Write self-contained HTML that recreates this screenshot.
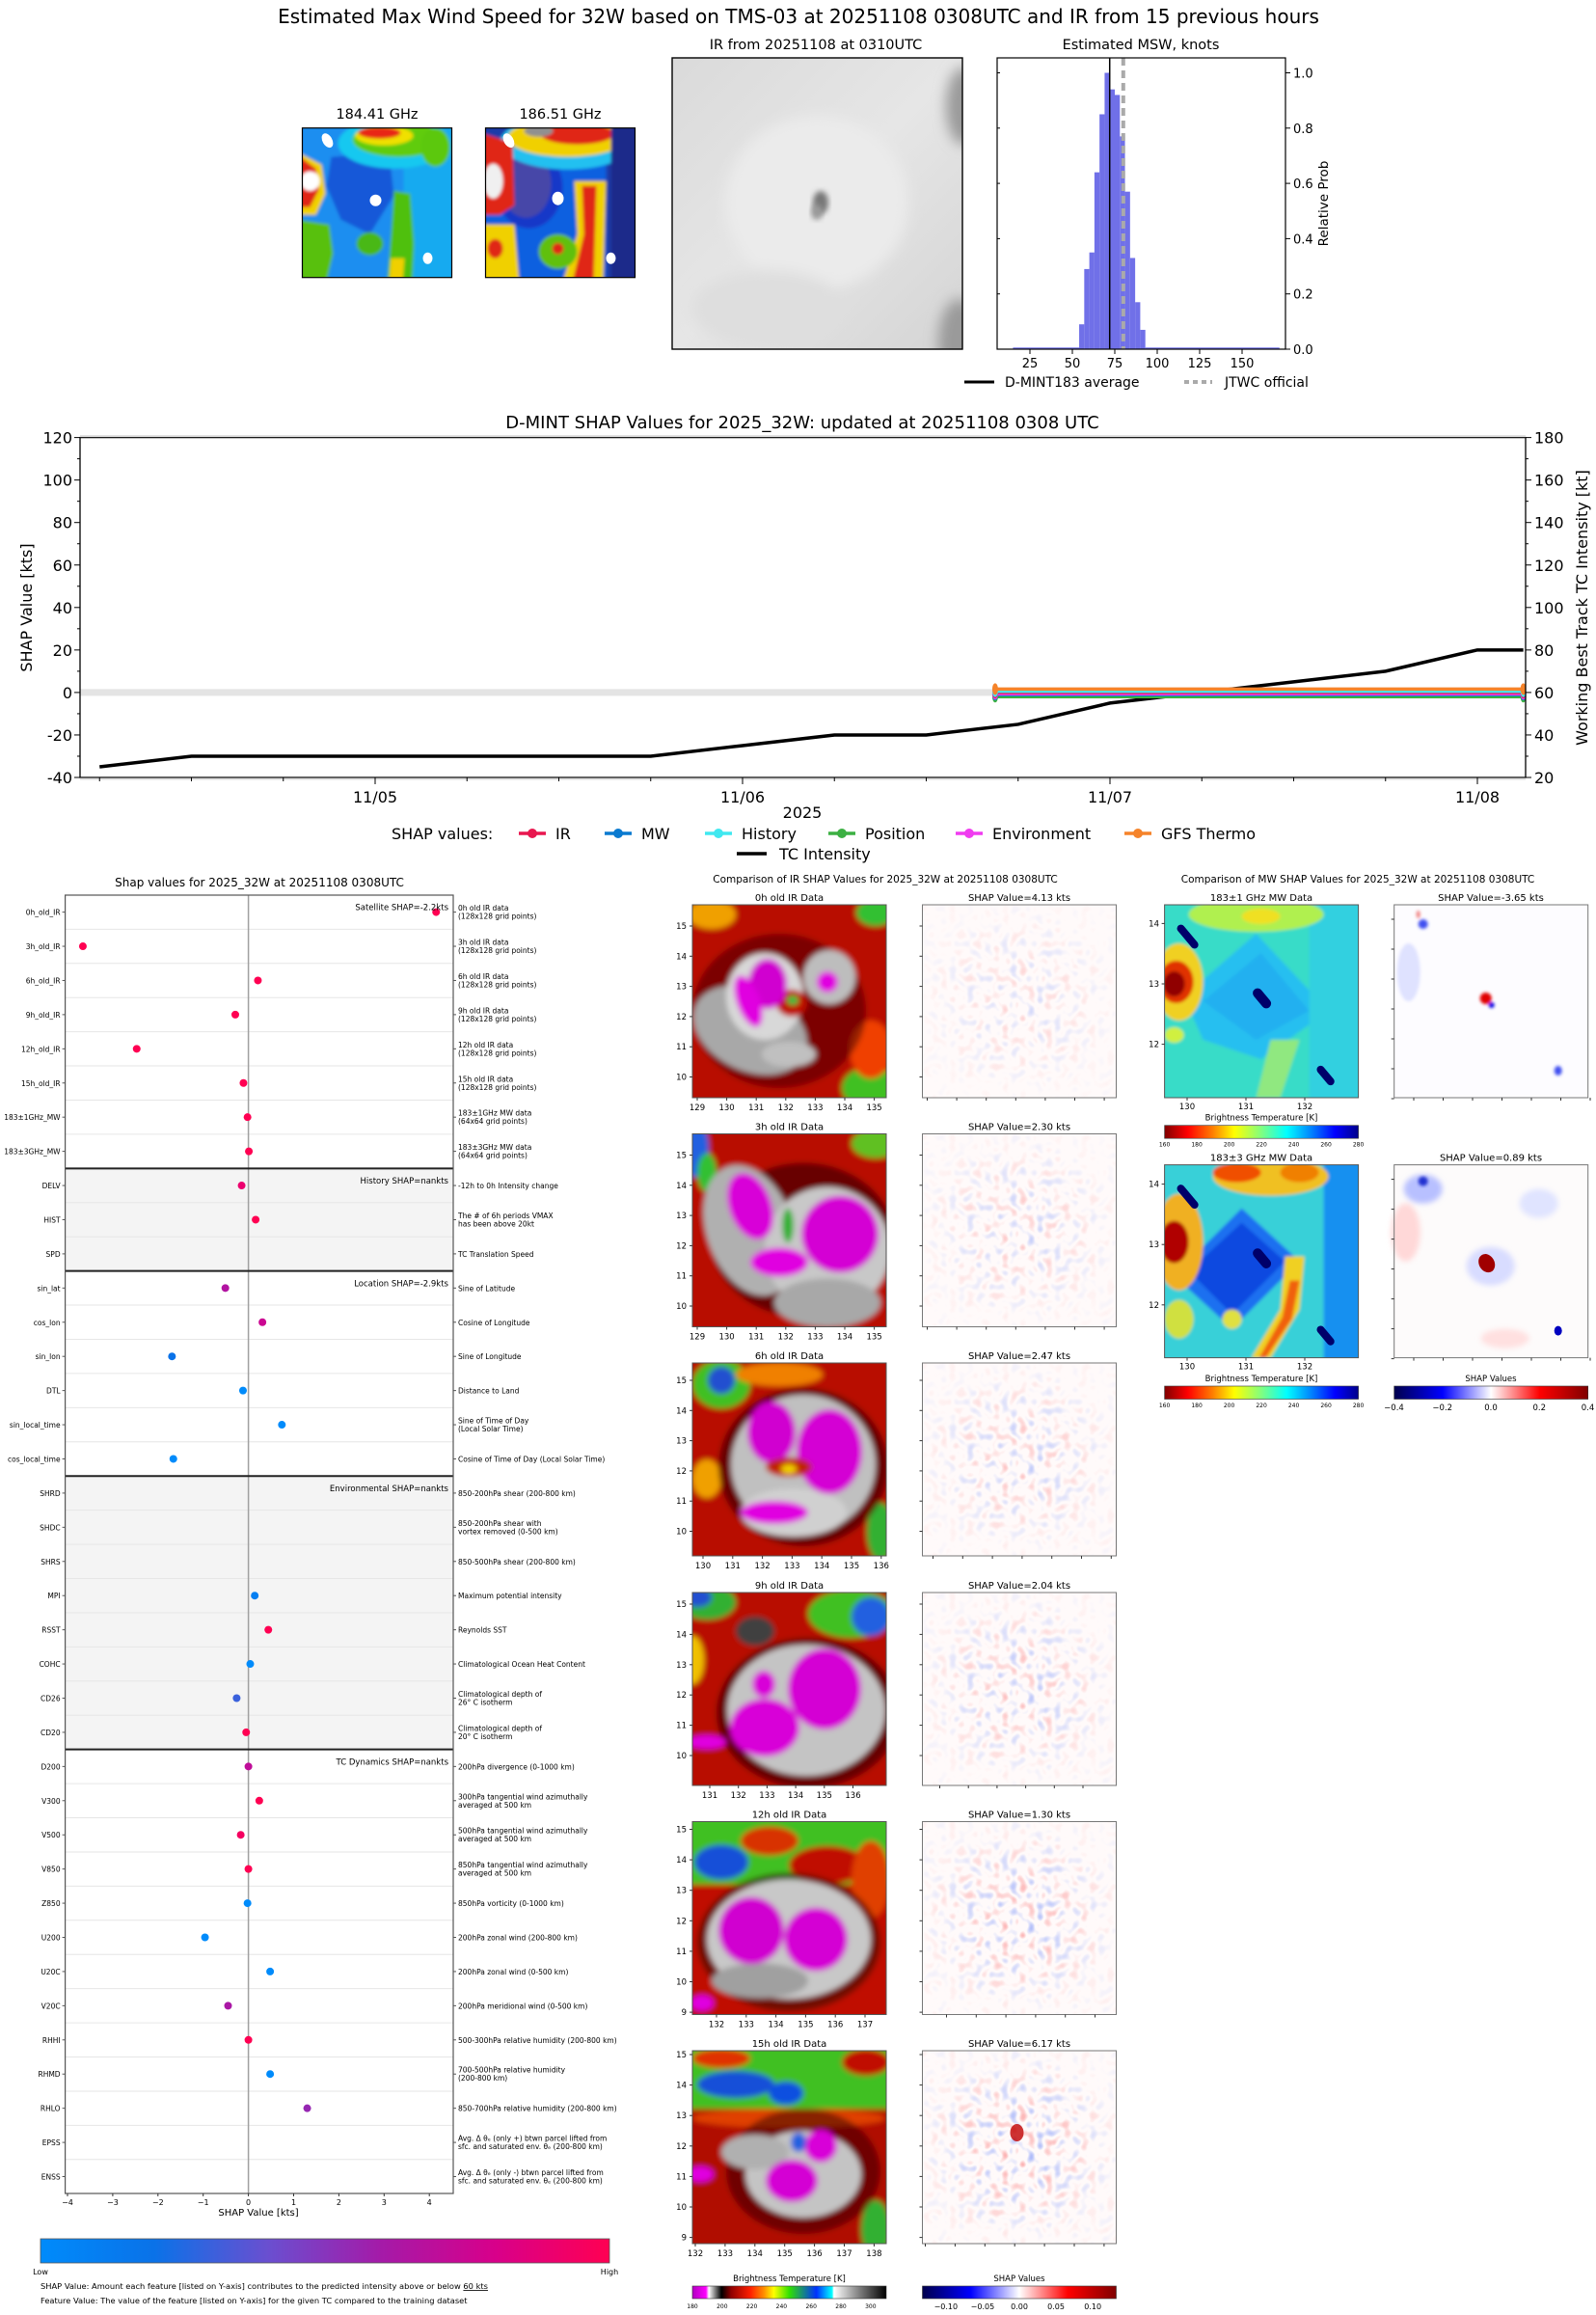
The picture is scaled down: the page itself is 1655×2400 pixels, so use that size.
<!DOCTYPE html>
<html><head><meta charset="utf-8"><title>D-MINT TMS-03 32W</title>
<style>
html,body{margin:0;padding:0;background:#fff;}
body{width:1655px;height:2396px;overflow:hidden;font-family:"DejaVu Sans","Liberation Sans",sans-serif;}
svg text{font-family:"DejaVu Sans","Liberation Sans",sans-serif;fill:#000;}
</style></head>
<body>
<svg id="page" xmlns="http://www.w3.org/2000/svg" width="1655" height="2396" viewBox="0 0 1655 2396">
<defs>
 <filter id="bl" x="-20%" y="-20%" width="140%" height="140%"><feGaussianBlur stdDeviation="3"/></filter>
 <filter id="bl2" x="-20%" y="-20%" width="140%" height="140%"><feGaussianBlur stdDeviation="1.5"/></filter>
 <filter id="bl6" x="-30%" y="-30%" width="160%" height="160%"><feGaussianBlur stdDeviation="7"/></filter>
 <filter id="noise" x="0" y="0" width="1" height="1">
  <feTurbulence type="fractalNoise" baseFrequency="0.11" numOctaves="1" seed="4" result="t"/>
  <feColorMatrix in="t" type="matrix" values="0 0 0 0 0.95  0 0 0 0 0.2  0 0 0 0 0.2  5 0 0 0 -2.75" result="r"/>
  <feColorMatrix in="t" type="matrix" values="0 0 0 0 0.2  0 0 0 0 0.3  0 0 0 0 0.95  -5 0 0 0 2.25" result="b"/>
  <feMerge><feMergeNode in="r"/><feMergeNode in="b"/></feMerge>
 </filter>
 <radialGradient id="rmask"><stop offset="0" stop-color="#fff"/><stop offset="0.55" stop-color="#888"/><stop offset="1" stop-color="#222"/></radialGradient>
 <mask id="cmask" maskContentUnits="objectBoundingBox"><rect x="0" y="0" width="1" height="1" fill="url(#rmask)"/></mask>
 <linearGradient id="jetR" x1="0" x2="1">
  <stop offset="0" stop-color="#800000"/><stop offset="0.12" stop-color="#ff0000"/><stop offset="0.25" stop-color="#ff8000"/>
  <stop offset="0.36" stop-color="#ffff00"/><stop offset="0.5" stop-color="#80ff80"/><stop offset="0.63" stop-color="#00ffff"/>
  <stop offset="0.76" stop-color="#0080ff"/><stop offset="0.88" stop-color="#0000ff"/><stop offset="1" stop-color="#00008b"/>
 </linearGradient>
 <linearGradient id="irC" x1="0" x2="1">
  <stop offset="0" stop-color="#b000c0"/><stop offset="0.07" stop-color="#ff00ff"/><stop offset="0.085" stop-color="#ffffff"/>
  <stop offset="0.15" stop-color="#000000"/><stop offset="0.2" stop-color="#900000"/><stop offset="0.3" stop-color="#ff2000"/>
  <stop offset="0.37" stop-color="#ff9000"/><stop offset="0.42" stop-color="#ffff00"/><stop offset="0.5" stop-color="#30e000"/>
  <stop offset="0.64" stop-color="#0030ff"/><stop offset="0.72" stop-color="#00ffff"/><stop offset="0.73" stop-color="#ffffff"/>
  <stop offset="0.86" stop-color="#808080"/><stop offset="1" stop-color="#000000"/>
 </linearGradient>
 <linearGradient id="seis" x1="0" x2="1">
  <stop offset="0" stop-color="#00004c"/><stop offset="0.25" stop-color="#0000ff"/><stop offset="0.5" stop-color="#ffffff"/>
  <stop offset="0.75" stop-color="#ff0000"/><stop offset="1" stop-color="#800000"/>
 </linearGradient>
 <linearGradient id="shapC" x1="0" x2="1">
  <stop offset="0" stop-color="#008bfb"/><stop offset="0.2" stop-color="#0a72e8"/><stop offset="0.4" stop-color="#6a4fd0"/>
  <stop offset="0.6" stop-color="#a51aa8"/><stop offset="0.8" stop-color="#d8008a"/><stop offset="1" stop-color="#ff0052"/>
 </linearGradient>
 <linearGradient id="irTop" x1="0" y1="0" x2="1" y2="1">
  <stop offset="0" stop-color="#dadada"/><stop offset="0.5" stop-color="#e6e6e6"/><stop offset="1" stop-color="#d4d4d4"/>
 </linearGradient>
 <clipPath id="c155"><rect x="0" y="0" width="155" height="155"/></clipPath>
 <clipPath id="c201"><rect x="0" y="0" width="201" height="200"/></clipPath>
 <clipPath id="cIR"><rect x="0" y="0" width="301" height="302"/></clipPath>
</defs>

<!-- ============ TOP SECTION ============ -->
<text x="828" y="24" font-size="20" text-anchor="middle">Estimated Max Wind Speed for 32W based on TMS-03 at 20251108 0308UTC and IR from 15 previous hours</text>

<text x="391" y="123" font-size="14.5" text-anchor="middle">184.41 GHz</text>
<text x="581" y="123" font-size="14.5" text-anchor="middle">186.51 GHz</text>

<g transform="translate(313.5,132.7)">
 <g clip-path="url(#c155)"><g filter="url(#bl2)">
  <rect x="-5" y="-5" width="165" height="165" fill="#1e8ef0"/>
  <rect x="105" y="-5" width="55" height="165" fill="#14aaf0"/>
  <polygon points="30,30 90,25 95,70 70,110 40,95 25,60" fill="#1858d8"/>
  <ellipse cx="95" cy="16" rx="58" ry="26" fill="#12c8f0"/>
  <ellipse cx="100" cy="12" rx="48" ry="18" fill="#60cc10"/>
  <ellipse cx="85" cy="8" rx="30" ry="10" fill="#f0e000"/>
  <ellipse cx="80" cy="5" rx="22" ry="6" fill="#e82818"/>
  <ellipse cx="138" cy="20" rx="15" ry="20" fill="#5cc810"/>
  <polygon points="-5,25 20,38 24,68 14,90 -5,90" fill="#f0d000"/>
  <polygon points="-5,28 14,42 17,64 8,82 -5,82" fill="#e02818"/>
  <ellipse cx="8" cy="55" rx="10" ry="10" fill="#ffffff"/>
  <polygon points="-5,95 28,100 32,130 25,160 -5,160" fill="#58c010"/>
  <polygon points="95,65 112,68 116,120 114,160 88,160 92,110" fill="#50c010"/>
  <polygon points="92,135 106,135 104,160 90,160" fill="#f0d000"/>
  <ellipse cx="70" cy="120" rx="14" ry="12" fill="#48b818"/>
 </g>
 <ellipse cx="26" cy="13" rx="5" ry="8" fill="#fff" transform="rotate(-30 26 13)"/>
 <ellipse cx="76" cy="75" rx="6" ry="6" fill="#fff"/>
 <ellipse cx="130" cy="135" rx="5" ry="6" fill="#fff"/>
 </g>
 <rect x="0" y="0" width="155" height="155" fill="none" stroke="#000" stroke-width="1.2"/>
</g>

<g transform="translate(503.5,132.7)">
 <g clip-path="url(#c155)"><g filter="url(#bl2)">
  <rect x="-5" y="-5" width="165" height="165" fill="#1a3aa8"/>
  <rect x="-5" y="20" width="130" height="140" fill="#1060e0"/>
  <ellipse cx="45" cy="62" rx="35" ry="42" fill="#1838c8"/>
  <ellipse cx="42" cy="58" rx="26" ry="35" fill="#4646a8"/>
  <ellipse cx="85" cy="15" rx="70" ry="28" fill="#20c0f0"/>
  <ellipse cx="85" cy="10" rx="62" ry="20" fill="#f0d000"/>
  <ellipse cx="95" cy="6" rx="38" ry="11" fill="#e02818"/>
  <ellipse cx="55" cy="3" rx="15" ry="6" fill="#909090"/>
  <polygon points="-5,5 28,15 30,80 15,90 -5,90" fill="#e02818"/>
  <ellipse cx="8" cy="55" rx="10" ry="18" fill="#f0f0f0"/>
  <polygon points="92,55 125,55 122,160 80,160 95,110" fill="#f0d000"/>
  <polygon points="100,60 115,60 112,160 90,160 102,110" fill="#e02818"/>
  <polygon points="-5,100 30,100 35,160 -5,160" fill="#f0d000"/>
  <ellipse cx="10" cy="125" rx="8" ry="10" fill="#e02818"/>
  <ellipse cx="75" cy="128" rx="20" ry="18" fill="#60c010"/>
  <ellipse cx="75" cy="125" rx="6" ry="6" fill="#e02818"/>
  <rect x="130" y="-5" width="30" height="165" fill="#1a2a8a"/>
 </g>
 <ellipse cx="24" cy="13" rx="5" ry="8" fill="#fff" transform="rotate(-30 24 13)"/>
 <ellipse cx="75" cy="73" rx="6" ry="7" fill="#fff"/>
 <ellipse cx="130" cy="135" rx="5" ry="6" fill="#fff"/>
 </g>
 <rect x="0" y="0" width="155" height="155" fill="none" stroke="#000" stroke-width="1.2"/>
</g>

<text x="846" y="51" font-size="14.5" text-anchor="middle">IR from 20251108 at 0310UTC</text>
<g transform="translate(697,60)">
 <g clip-path="url(#cIR)">
  <rect x="0" y="0" width="301" height="302" fill="url(#irTop)"/>
  <g filter="url(#bl6)">
   <ellipse cx="302" cy="50" rx="18" ry="40" fill="#9a9a9a"/>
   <ellipse cx="298" cy="295" rx="22" ry="45" fill="#9a9a9a"/>
   <ellipse cx="150" cy="150" rx="95" ry="90" fill="#ebebeb"/>
   <ellipse cx="100" cy="260" rx="80" ry="40" fill="#dedede"/>
  </g>
  <ellipse cx="154" cy="150" rx="8" ry="12" fill="#777" filter="url(#bl)"/>
  <ellipse cx="150" cy="160" rx="6" ry="8" fill="#999" filter="url(#bl)"/>
 </g>
 <rect x="0" y="0" width="301" height="302" fill="none" stroke="#000" stroke-width="1.4"/>
</g>

<text x="1183" y="51" font-size="14.5" text-anchor="middle">Estimated MSW, knots</text>
<g id="hist"></g>

<!-- ============ SHAP TIME SERIES ============ -->
<text x="832" y="444" font-size="18" text-anchor="middle">D-MINT SHAP Values for 2025_32W: updated at 20251108 0308 UTC</text>
<g id="ts"></g>

<!-- ============ SHAP DOT PLOT ============ -->
<text x="269" y="919" font-size="12" text-anchor="middle">Shap values for 2025_32W at 20251108 0308UTC</text>
<g id="dots"></g>

<!-- ============ IR / MW COMPARISON ============ -->
<text x="918" y="915" font-size="10.5" text-anchor="middle">Comparison of IR SHAP Values for 2025_32W at 20251108 0308UTC</text>
<text x="1408" y="915" font-size="10.5" text-anchor="middle">Comparison of MW SHAP Values for 2025_32W at 20251108 0308UTC</text>

<!-- IR panel 0h -->
<g transform="translate(718,938)"><g clip-path="url(#c201)"><g filter="url(#bl)">
 <rect x="-10" y="-10" width="221" height="220" fill="#b80800"/>
 <ellipse cx="20" cy="10" rx="25" ry="15" fill="#f0a000"/>
 <ellipse cx="190" cy="8" rx="20" ry="14" fill="#30c030"/>
 <ellipse cx="185" cy="190" rx="30" ry="22" fill="#40c020"/>
 <ellipse cx="185" cy="150" rx="22" ry="30" fill="#f04000"/>
 <ellipse cx="90" cy="110" rx="90" ry="80" fill="#400000" opacity="0.5"/>
 <ellipse cx="60" cy="130" rx="62" ry="42" fill="#a8a8a8" transform="rotate(25 60 130)"/>
 <ellipse cx="75" cy="95" rx="40" ry="45" fill="#d8d8d8"/>
 <ellipse cx="142" cy="75" rx="27" ry="28" fill="#bdbdbd"/>
 <ellipse cx="100" cy="155" rx="28" ry="13" fill="#c0c0c0"/>
 <ellipse cx="103" cy="102" rx="16" ry="14" fill="#c01000"/>
 <ellipse cx="104" cy="99" rx="6" ry="5" fill="#30c040"/>
 <ellipse cx="78" cy="82" rx="20" ry="26" fill="#d000d0"/>
 <ellipse cx="58" cy="100" rx="12" ry="28" fill="#e000e0" transform="rotate(-20 58 100)"/>
 <ellipse cx="140" cy="80" rx="11" ry="11" fill="#e000e0"/>
</g></g><rect x="0" y="0" width="201" height="200" fill="none" stroke="#555" stroke-width="1"/></g>

<!-- IR panel 3h -->
<g transform="translate(718,1175.5)"><g clip-path="url(#c201)"><g filter="url(#bl)">
 <rect x="-10" y="-10" width="221" height="220" fill="#b80800"/>
 <ellipse cx="2" cy="15" rx="15" ry="30" fill="#2060e0"/>
 <ellipse cx="15" cy="40" rx="10" ry="20" fill="#30c030"/>
 <ellipse cx="190" cy="10" rx="25" ry="15" fill="#60c020"/>
 <ellipse cx="115" cy="110" rx="95" ry="80" fill="#300000" opacity="0.6"/>
 <ellipse cx="60" cy="100" rx="45" ry="70" fill="#b0b0b0" transform="rotate(-20 60 100)"/>
 <ellipse cx="140" cy="120" rx="65" ry="65" fill="#c8c8c8"/>
 <ellipse cx="140" cy="175" rx="55" ry="25" fill="#a8a8a8"/>
 <ellipse cx="60" cy="75" rx="22" ry="36" fill="#d800d8" transform="rotate(-20 60 75)"/>
 <ellipse cx="153" cy="104" rx="40" ry="40" fill="#d400d4"/>
 <ellipse cx="90" cy="133" rx="30" ry="15" fill="#e000e0"/>
 <ellipse cx="99" cy="95" rx="6" ry="18" fill="#30b030"/>
</g></g><rect x="0" y="0" width="201" height="200" fill="none" stroke="#555" stroke-width="1"/></g>

<!-- IR panel 6h -->
<g transform="translate(718,1413)"><g clip-path="url(#c201)"><g filter="url(#bl)">
 <rect x="-10" y="-10" width="221" height="220" fill="#b80800"/>
 <ellipse cx="30" cy="22" rx="30" ry="25" fill="#40c020"/>
 <ellipse cx="30" cy="18" rx="14" ry="14" fill="#2050d0"/>
 <ellipse cx="90" cy="12" rx="45" ry="12" fill="#f08000"/>
 <ellipse cx="195" cy="175" rx="14" ry="30" fill="#30b030"/>
 <ellipse cx="15" cy="120" rx="15" ry="20" fill="#f0a000"/>
 <ellipse cx="115" cy="108" rx="88" ry="82" fill="#300000" opacity="0.6"/>
 <ellipse cx="115" cy="105" rx="75" ry="72" fill="#c0c0c0"/>
 <ellipse cx="105" cy="155" rx="55" ry="25" fill="#d0d0d0"/>
 <ellipse cx="82" cy="72" rx="25" ry="32" fill="#d000d0"/>
 <ellipse cx="142" cy="92" rx="34" ry="44" fill="#d400d4"/>
 <ellipse cx="85" cy="155" rx="35" ry="12" fill="#e000e0"/>
 <ellipse cx="100" cy="108" rx="24" ry="10" fill="#c02000"/>
 <ellipse cx="100" cy="110" rx="8" ry="5" fill="#f0d000"/>
</g></g><rect x="0" y="0" width="201" height="200" fill="none" stroke="#555" stroke-width="1"/></g>

<!-- IR panel 9h -->
<g transform="translate(718,1651)"><g clip-path="url(#c201)"><g filter="url(#bl)">
 <rect x="-10" y="-10" width="221" height="220" fill="#b80800"/>
 <ellipse cx="15" cy="10" rx="30" ry="18" fill="#30b030"/>
 <ellipse cx="5" cy="5" rx="15" ry="10" fill="#2050d0"/>
 <ellipse cx="0" cy="70" rx="12" ry="25" fill="#f0c000"/>
 <ellipse cx="165" cy="22" rx="45" ry="25" fill="#40c020"/>
 <ellipse cx="185" cy="25" rx="20" ry="20" fill="#2060e0"/>
 <ellipse cx="120" cy="125" rx="95" ry="78" fill="#300000" opacity="0.6"/>
 <ellipse cx="118" cy="122" rx="82" ry="68" fill="#c4c4c4"/>
 <ellipse cx="65" cy="40" rx="20" ry="15" fill="#404040"/>
 <ellipse cx="137" cy="100" rx="38" ry="42" fill="#d400d4"/>
 <ellipse cx="75" cy="140" rx="36" ry="30" fill="#d800d8"/>
 <ellipse cx="74" cy="95" rx="12" ry="14" fill="#d800d8"/>
 <ellipse cx="15" cy="155" rx="20" ry="7" fill="#e000e0"/>
</g></g><rect x="0" y="0" width="201" height="200" fill="none" stroke="#555" stroke-width="1"/></g>

<!-- IR panel 12h -->
<g transform="translate(718,1888.5)"><g clip-path="url(#c201)"><g filter="url(#bl)">
 <rect x="-10" y="-10" width="221" height="220" fill="#c01000"/>
 <rect x="-10" y="-10" width="221" height="75" fill="#40c020"/>
 <ellipse cx="30" cy="42" rx="28" ry="18" fill="#1850d8"/>
 <ellipse cx="80" cy="20" rx="30" ry="15" fill="#d83000"/>
 <ellipse cx="140" cy="45" rx="40" ry="20" fill="#c01000"/>
 <ellipse cx="185" cy="60" rx="20" ry="40" fill="#e04000"/>
 <ellipse cx="100" cy="125" rx="95" ry="72" fill="#300000" opacity="0.55"/>
 <ellipse cx="100" cy="122" rx="85" ry="62" fill="#c8c8c8"/>
 <ellipse cx="70" cy="165" rx="50" ry="18" fill="#a0a0a0"/>
 <ellipse cx="61" cy="113" rx="34" ry="35" fill="#d000d0"/>
 <ellipse cx="128" cy="122" rx="33" ry="33" fill="#d400d4"/>
 <ellipse cx="10" cy="188" rx="12" ry="8" fill="#e000e0"/>
</g></g><rect x="0" y="0" width="201" height="200" fill="none" stroke="#555" stroke-width="1"/></g>

<!-- IR panel 15h -->
<g transform="translate(718,2126)"><g clip-path="url(#c201)"><g filter="url(#bl)">
 <rect x="-10" y="-10" width="221" height="220" fill="#b00800"/>
 <rect x="-10" y="-10" width="221" height="70" fill="#40c020"/>
 <ellipse cx="45" cy="35" rx="40" ry="14" fill="#1850d8"/>
 <ellipse cx="97" cy="44" rx="18" ry="12" fill="#1050e0"/>
 <ellipse cx="30" cy="8" rx="30" ry="10" fill="#e03000"/>
 <ellipse cx="180" cy="12" rx="25" ry="14" fill="#c01000"/>
 <ellipse cx="100" cy="70" rx="100" ry="10" fill="#e04000"/>
 <ellipse cx="190" cy="185" rx="15" ry="30" fill="#30b030"/>
 <ellipse cx="115" cy="125" rx="80" ry="65" fill="#300000" opacity="0.5"/>
 <ellipse cx="115" cy="128" rx="60" ry="45" fill="#c4c4c4"/>
 <ellipse cx="65" cy="105" rx="35" ry="18" fill="#b0b0b0"/>
 <ellipse cx="103" cy="135" rx="27" ry="22" fill="#d400d4"/>
 <ellipse cx="133" cy="99" rx="17" ry="17" fill="#d800d8"/>
 <ellipse cx="110" cy="95" rx="8" ry="10" fill="#2060e0"/>
 <ellipse cx="8" cy="128" rx="14" ry="8" fill="#e000e0"/>
</g></g><rect x="0" y="0" width="201" height="200" fill="none" stroke="#555" stroke-width="1"/></g>

<!-- IR SHAP maps -->
<g transform="translate(956.5,938)"><rect width="201" height="200" fill="#fffafa"/><g mask="url(#cmask)" opacity="0.35"><rect width="201" height="200" filter="url(#noise)"/></g><rect width="201" height="200" fill="none" stroke="#777"/></g>
<g transform="translate(956.5,1175.5)"><rect width="201" height="200" fill="#fffafa"/><g mask="url(#cmask)" opacity="0.45"><rect width="201" height="200" filter="url(#noise)"/></g><rect width="201" height="200" fill="none" stroke="#777"/></g>
<g transform="translate(956.5,1413)"><rect width="201" height="200" fill="#fffafa"/><g mask="url(#cmask)" opacity="0.5"><rect width="201" height="200" filter="url(#noise)"/></g><rect width="201" height="200" fill="none" stroke="#777"/></g>
<g transform="translate(956.5,1651)"><rect width="201" height="200" fill="#fffafa"/><g mask="url(#cmask)" opacity="0.55"><rect width="201" height="200" filter="url(#noise)"/></g><rect width="201" height="200" fill="none" stroke="#777"/></g>
<g transform="translate(956.5,1888.5)"><rect width="201" height="200" fill="#fffafa"/><g mask="url(#cmask)" opacity="0.65"><rect width="201" height="200" filter="url(#noise)"/></g><rect width="201" height="200" fill="none" stroke="#777"/></g>
<g transform="translate(956.5,2126)"><rect width="201" height="200" fill="#fffafa"/><g mask="url(#cmask)" opacity="0.7"><rect width="201" height="200" filter="url(#noise)"/></g><ellipse cx="98" cy="85" rx="7" ry="9" fill="#c00000" opacity="0.8"/><rect width="201" height="200" fill="none" stroke="#777"/></g>

<!-- MW lower panels -->
<g transform="translate(1207.6,938)"><g clip-path="url(#c201)"><g filter="url(#bl2)">
 <rect x="-5" y="-5" width="211" height="210" fill="#38dcc8"/>
 <polygon points="20,95 95,30 170,110 100,160 40,140" fill="#28bff0"/>
 <polygon points="40,100 100,50 150,110 95,140" fill="#22b0f0"/>
 <rect x="150" y="-5" width="60" height="210" fill="#30d0e0"/>
 <ellipse cx="95" cy="10" rx="70" ry="18" fill="#b0f050"/>
 <ellipse cx="100" cy="12" rx="20" ry="8" fill="#f0e020"/>
 <ellipse cx="15" cy="80" rx="25" ry="40" fill="#f0d020"/>
 <ellipse cx="12" cy="80" rx="18" ry="22" fill="#e03000"/>
 <ellipse cx="10" cy="82" rx="11" ry="13" fill="#900000"/>
 <ellipse cx="10" cy="135" rx="10" ry="8" fill="#d0f040"/>
 <polygon points="110,140 140,140 120,200 95,200" fill="#90e880"/>
</g>
 <rect x="20" y="18" width="8" height="30" rx="4" fill="#00006a" transform="rotate(-40 24 33)"/>
 <rect x="96" y="85" width="10" height="24" rx="5" fill="#00006a" transform="rotate(-40 101 97)"/>
 <rect x="163" y="165" width="8" height="24" rx="4" fill="#00006a" transform="rotate(-40 167 177)"/>
</g><rect width="201" height="200" fill="none" stroke="#555"/></g>

<g transform="translate(1207.6,1207.6)"><g clip-path="url(#c201)"><g filter="url(#bl2)">
 <rect x="-5" y="-5" width="211" height="210" fill="#38d0d8"/>
 <rect x="165" y="-5" width="45" height="210" fill="#1890f0"/>
 <polygon points="10,115 80,45 140,100 70,170" fill="#1a70f0"/>
 <polygon points="25,110 80,60 125,100 70,155" fill="#0848e0"/>
 <ellipse cx="110" cy="12" rx="60" ry="20" fill="#f0c020"/>
 <ellipse cx="75" cy="8" rx="25" ry="10" fill="#f05000"/>
 <ellipse cx="140" cy="8" rx="20" ry="10" fill="#f08000"/>
 <ellipse cx="15" cy="80" rx="25" ry="50" fill="#f0b020"/>
 <ellipse cx="10" cy="80" rx="15" ry="22" fill="#b00000"/>
 <polygon points="125,95 145,95 140,150 110,200 90,200 120,150" fill="#f0d020"/>
 <polygon points="130,120 140,120 132,160 105,200 98,200 122,158" fill="#f06010"/>
 <ellipse cx="15" cy="160" rx="15" ry="20" fill="#d0e040"/>
 <ellipse cx="70" cy="160" rx="10" ry="10" fill="#e0e040"/>
</g>
 <rect x="20" y="18" width="8" height="30" rx="4" fill="#00006a" transform="rotate(-40 24 33)"/>
 <rect x="96" y="85" width="10" height="24" rx="5" fill="#00006a" transform="rotate(-40 101 97)"/>
 <rect x="163" y="165" width="8" height="24" rx="4" fill="#00006a" transform="rotate(-40 167 177)"/>
</g><rect width="201" height="200" fill="none" stroke="#555"/></g>

<g transform="translate(1445.7,938)">
 <rect width="201" height="200" fill="#fdfcff"/>
 <g filter="url(#bl2)">
  <ellipse cx="15" cy="70" rx="12" ry="30" fill="#dfe2ff"/>
  <ellipse cx="30" cy="20" rx="5" ry="5" fill="#4050f0"/>
  <ellipse cx="25" cy="10" rx="2" ry="4" fill="#f08080"/>
  <ellipse cx="95" cy="97" rx="6" ry="6" fill="#e00000"/>
  <ellipse cx="101" cy="104" rx="3" ry="3" fill="#0000e0"/>
  <ellipse cx="170" cy="172" rx="4" ry="5" fill="#4050f0"/>
 </g>
 <rect width="201" height="200" fill="none" stroke="#777"/></g>
<g transform="translate(1445.7,1207.6)">
 <rect width="201" height="200" fill="#fdfbfb"/>
 <g filter="url(#bl)">
  <ellipse cx="30" cy="25" rx="20" ry="15" fill="#b8c0ff"/>
  <ellipse cx="12" cy="70" rx="15" ry="30" fill="#ffd8d8"/>
  <ellipse cx="100" cy="105" rx="25" ry="20" fill="#d8dcff"/>
  <ellipse cx="150" cy="40" rx="20" ry="15" fill="#e0e4ff"/>
  <ellipse cx="115" cy="180" rx="25" ry="10" fill="#ffe0e0"/>
 </g>
 <ellipse cx="30" cy="17" rx="5" ry="5" fill="#2030d0" filter="url(#bl2)"/>
 <ellipse cx="96" cy="102" rx="8" ry="10" fill="#a00000" transform="rotate(-30 96 102)"/>
 <ellipse cx="170" cy="172" rx="4" ry="5" fill="#0000c0"/>
 <rect width="201" height="200" fill="none" stroke="#777"/></g>

<g id="grid"></g>

<script>
const NS = 'http://www.w3.org/2000/svg';
function mk(tag, attrs, parent) {
  const e = document.createElementNS(NS, tag);
  for (const k in attrs) e.setAttribute(k, attrs[k]);
  parent.appendChild(e);
  return e;
}
function tx(str, attrs, parent) {
  const e = mk('text', attrs, parent);
  e.textContent = str;
  return e;
}

/* ================= HISTOGRAM DATA ================= */
const histBinStart = [54, 57, 60, 63, 66, 69, 72, 75, 78, 81, 84, 87, 90];
const histProb = [0.09, 0.29, 0.35, 0.64, 0.85, 1.0, 0.94, 0.92, 0.77, 0.57, 0.33, 0.17, 0.07];
const histTailLow = [15, 54];
const histTailHigh = [93, 172];
const histTailProb = [0.006];
const histMean = [72];
const histJtwc = [80];
const histXTicks = [25, 50, 75, 100, 125, 150];
const histYTicks = [0.0, 0.2, 0.4, 0.6, 0.8, 1.0];

(function () {
  const g = document.getElementById('hist');
  const L = 1034, R = 1333, T = 60, B = 362;
  const hx = v => 1024 + v * 1.76;
  const hy = p => 362 - p * 286.5;
  const binW = 3;
  histBinStart.forEach((s, i) => {
    const r = mk('rect', { x: hx(s), y: hy(histProb[i]), width: hx(s + binW) - hx(s), height: B - hy(histProb[i]), fill: '#7070e8' }, g);
    
    
  });
  [histTailLow, histTailHigh].forEach(t => {
    const r = mk('rect', { x: hx(t[0]), y: hy(histTailProb[0]), width: hx(t[1]) - hx(t[0]), height: B - hy(histTailProb[0]), fill: '#7070e8' }, g);
    
    
  });
  const jl = mk('line', { x1: hx(histJtwc[0]), x2: hx(histJtwc[0]), y1: T, y2: B, stroke: '#aaaaaa', 'stroke-width': 4, 'stroke-dasharray': '8,5' }, g);
  
  
  const ml = mk('line', { x1: hx(histMean[0]), x2: hx(histMean[0]), y1: T, y2: B, stroke: '#000', 'stroke-width': 1.5 }, g);
  
  
  const fr = mk('rect', { x: L, y: T, width: R - L, height: B - T, fill: 'none', stroke: '#000', 'stroke-width': 1.2 }, g);
  
  
  histXTicks.forEach(v => {
    mk('line', { x1: hx(v), x2: hx(v), y1: B, y2: B + 5, stroke: '#000' }, g);
    const t = tx(String(v), { x: hx(v), y: B + 19, 'font-size': 13, 'text-anchor': 'middle' }, g);
    
    
  });
  histYTicks.forEach(p => {
    mk('line', { x1: R, x2: R + 5, y1: hy(p), y2: hy(p), stroke: '#000' }, g);
    mk('line', { x1: L, x2: L + 3, y1: hy(p), y2: hy(p), stroke: '#000' }, g);
    const t = tx(p.toFixed(1), { x: R + 8, y: hy(p) + 5, 'font-size': 13 }, g);
    
    
  });
  const yl = tx('Relative Prob', { x: 0, y: 0, 'font-size': 13.5, 'text-anchor': 'middle', transform: 'translate(1377,211) rotate(-90)' }, g);
  
  
  mk('line', { x1: 1000, x2: 1031, y1: 396, y2: 396, stroke: '#000', 'stroke-width': 3 }, g);
  const l1 = tx('D-MINT183 average', { x: 1042, y: 401, 'font-size': 14 }, g);
  
  
  mk('line', { x1: 1228, x2: 1257, y1: 396, y2: 396, stroke: '#aaa', 'stroke-width': 4, 'stroke-dasharray': '5,4' }, g);
  const l2 = tx('JTWC official', { x: 1270, y: 401, 'font-size': 14 }, g);
  
  
})();

/* ================= TIME SERIES DATA ================= */
const tcHours = [-18, -12, -6, 0, 6, 12, 18, 24, 30, 36, 42, 48, 54, 60, 66, 72, 75];
const tcKts = [25, 30, 30, 30, 30, 30, 30, 35, 40, 40, 45, 55, 60, 65, 70, 80, 80];
const shapHours = [40.5, 75];
const shapNames = ['IR', 'MW', 'History', 'Position', 'Environment', 'GFS Thermo'];
const shapColors = ['#e8174f', '#0a7ad0', '#40e8f0', '#3cb043', '#f03cf0', '#f5832a'];
const shapIR = [0.0, 0.0];
const shapMW = [-1.0, -1.0];
const shapHistory = [0.6, 0.6];
const shapPosition = [-2.0, -2.0];
const shapEnvironment = [-0.6, -0.6];
const shapGFS = [1.6, 1.6];
const tsLeftTicks = [-40, -20, 0, 20, 40, 60, 80, 100, 120];
const tsRightTicks = [20, 40, 60, 80, 100, 120, 140, 160, 180];
const tsDateLabels = ['11/05', '11/06', '11/07', '11/08'];
const tsDateHours = [0, 24, 48, 72];

(function () {
  const g = document.getElementById('ts');
  const L = 83, R = 1582, T = 453.6, B = 806;
  const xs = h => 389 + h / 24 * 381;
  const yl = v => B - (v + 40) / 160 * (B - T);
  const yr = k => B - (k - 20) / 160 * (B - T);
  const band = mk('rect', { x: L, y: yl(1.6), width: R - L, height: yl(-1.6) - yl(1.6), fill: '#e4e4e4' }, g);
  
  
  const pts = tcHours.map((h, i) => xs(h) + ',' + yr(tcKts[i])).join(' ');
  const tl = mk('polyline', { points: pts, fill: 'none', stroke: '#000', 'stroke-width': 3.5 }, g);
  
  
  const series = [shapIR, shapMW, shapHistory, shapPosition, shapEnvironment, shapGFS];
  const order = [3, 1, 4, 0, 2, 5];
  order.forEach(si => {
    const vals = series[si];
    const sg = mk('g', {}, g);
    
    
    mk('polyline', { points: shapHours.map((h, i) => xs(h) + ',' + yl(vals[i])).join(' '), fill: 'none', stroke: shapColors[si], 'stroke-width': 3.5 }, sg);
    shapHours.forEach((h, i) => {
      const c = mk('ellipse', { cx: xs(h), cy: yl(vals[i]), rx: 3, ry: 6, fill: shapColors[si] }, sg);
      
      
    });
  });
  const fr = mk('rect', { x: L, y: T, width: R - L, height: B - T, fill: 'none', stroke: '#000', 'stroke-width': 1.3 }, g);
  
  
  mk('line', { x1: L, x2: R, y1: T - 1.5, y2: T - 1.5, stroke: '#ddd', 'stroke-width': 2 }, g);
  mk('line', { x1: L, x2: R, y1: B + 1.5, y2: B + 1.5, stroke: '#ddd', 'stroke-width': 2 }, g);
  for (let v = -40; v <= 120; v += 10) {
    const major = tsLeftTicks.indexOf(v) >= 0;
    mk('line', { x1: L - (major ? 6 : 3), x2: L, y1: yl(v), y2: yl(v), stroke: '#000' }, g);
    mk('line', { x1: R, x2: R + (major ? 6 : 3), y1: yl(v), y2: yl(v), stroke: '#000' }, g);
  }
  tsLeftTicks.forEach(v => {
    const t = tx(String(v), { x: L - 8, y: yl(v) + 6, 'font-size': 16, 'text-anchor': 'end' }, g);
    
    
  });
  tsRightTicks.forEach(k => {
    const t = tx(String(k), { x: R + 9, y: yr(k) + 6, 'font-size': 16 }, g);
    
    
  });
  for (let h = -18; h <= 75; h += 6) {
    const major = tsDateHours.indexOf(h) >= 0;
    mk('line', { x1: xs(h), x2: xs(h), y1: B, y2: B + (major ? 7 : 4), stroke: '#000' }, g);
  }
  tsDateLabels.forEach((d, i) => {
    const t = tx(d, { x: xs(tsDateHours[i]), y: B + 26, 'font-size': 16, 'text-anchor': 'middle' }, g);
    
    
  });
  const yr2025 = tx('2025', { x: 832, y: 848, 'font-size': 16, 'text-anchor': 'middle' }, g);
  
  
  const ylab = tx('SHAP Value [kts]', { x: 0, y: 0, 'font-size': 16, 'text-anchor': 'middle', transform: 'translate(33,630) rotate(-90)' }, g);
  
  
  const rlab = tx('Working Best Track TC Intensity [kt]', { x: 0, y: 0, 'font-size': 16, 'text-anchor': 'middle', transform: 'translate(1646,630) rotate(-90)' }, g);
  
  
  const lg = mk('g', {}, g);
  
  
  tx('SHAP values:', { x: 406, y: 870, 'font-size': 16 }, lg);
  const lx = [552, 641, 745, 873, 1005, 1180];
  shapNames.forEach((n, i) => {
    const e = mk('g', {}, lg);
    
    
    mk('line', { x1: lx[i] - 14, x2: lx[i] + 14, y1: 864, y2: 864, stroke: shapColors[i], 'stroke-width': 3.5 }, e);
    mk('circle', { cx: lx[i], cy: 864, r: 5, fill: shapColors[i] }, e);
    tx(n, { x: lx[i] + 24, y: 870, 'font-size': 16 }, e);
  });
  const te = mk('g', {}, lg);
  
  
  mk('line', { x1: 764, x2: 795, y1: 885, y2: 885, stroke: '#000', 'stroke-width': 3.5 }, te);
  tx('TC Intensity', { x: 808, y: 891, 'font-size': 16 }, te);
})();

/* ================= DOT PLOT DATA ================= */
const featNames = ['0h_old_IR', '3h_old_IR', '6h_old_IR', '9h_old_IR', '12h_old_IR', '15h_old_IR', '183±1GHz_MW', '183±3GHz_MW',
  'DELV', 'HIST', 'SPD',
  'sin_lat', 'cos_lon', 'sin_lon', 'DTL', 'sin_local_time', 'cos_local_time',
  'SHRD', 'SHDC', 'SHRS', 'MPI', 'RSST', 'COHC', 'CD26', 'CD20',
  'D200', 'V300', 'V500', 'V850', 'Z850', 'U200', 'U20C', 'V20C', 'RHHI', 'RHMD', 'RHLO', 'EPSS', 'ENSS'];
const featDesc = [
  ['0h old IR data', '(128x128 grid points)'], ['3h old IR data', '(128x128 grid points)'], ['6h old IR data', '(128x128 grid points)'],
  ['9h old IR data', '(128x128 grid points)'], ['12h old IR data', '(128x128 grid points)'], ['15h old IR data', '(128x128 grid points)'],
  ['183±1GHz MW data', '(64x64 grid points)'], ['183±3GHz MW data', '(64x64 grid points)'],
  ['-12h to 0h Intensity change'], ['The # of 6h periods VMAX', 'has been above 20kt'], ['TC Translation Speed'],
  ['Sine of Latitude'], ['Cosine of Longitude'], ['Sine of Longitude'], ['Distance to Land'],
  ['Sine of Time of Day', '(Local Solar Time)'], ['Cosine of Time of Day (Local Solar Time)'],
  ['850-200hPa shear (200-800 km)'], ['850-200hPa shear with', 'vortex removed (0-500 km)'], ['850-500hPa shear (200-800 km)'],
  ['Maximum potential intensity'], ['Reynolds SST'], ['Climatological Ocean Heat Content'],
  ['Climatological depth of', '26° C isotherm'], ['Climatological depth of', '20° C isotherm'],
  ['200hPa divergence (0-1000 km)'], ['300hPa tangential wind azimuthally', 'averaged at 500 km'],
  ['500hPa tangential wind azimuthally', 'averaged at 500 km'], ['850hPa tangential wind azimuthally', 'averaged at 500 km'],
  ['850hPa vorticity (0-1000 km)'], ['200hPa zonal wind (200-800 km)'], ['200hPa zonal wind (0-500 km)'],
  ['200hPa meridional wind (0-500 km)'], ['500-300hPa relative humidity (200-800 km)'], ['700-500hPa relative humidity', '(200-800 km)'],
  ['850-700hPa relative humidity (200-800 km)'],
  ['Avg. Δ θₑ (only +) btwn parcel lifted from', 'sfc. and saturated env. θₑ (200-800 km)'],
  ['Avg. Δ θₑ (only -) btwn parcel lifted from', 'sfc. and saturated env. θₑ (200-800 km)']];
const shapVals = [4.15, -3.66, 0.21, -0.29, -2.47, -0.11, -0.02, 0.01,
  -0.15, 0.16, null,
  -0.51, 0.31, -1.69, -0.12, 0.74, -1.66,
  null, null, null, 0.14, 0.44, 0.04, -0.26, -0.05,
  0.0, 0.24, -0.17, 0.0, -0.02, -0.96, 0.48, -0.45, 0.0, 0.48, 1.30, null, null];
const featVals = [1, 1, 1, 1, 1, 1, 1, 1,
  0.9, 1, null,
  0.65, 0.75, 0.2, 0.0, 0.0, 0.0,
  null, null, null, 0.1, 1, 0.0, 0.3, 1,
  0.7, 1, 0.95, 1, 0.0, 0.0, 0.0, 0.62, 1, 0.0, 0.55, null, null];
const groupLabels = ['Satellite SHAP=-2.2kts', 'History SHAP=nankts', 'Location SHAP=-2.9kts', 'Environmental SHAP=nankts', 'TC Dynamics SHAP=nankts'];
const groupStart = [0, 8, 11, 17, 25];
const dotXTicks = [-4, -3, -2, -1, 0, 1, 2, 3, 4];

(function () {
  const g = document.getElementById('dots');
  const L = 67.6, R = 470, T = 928, B = 2274;
  const rowY = i => 945.6 + i * 35.43;
  const xv = v => 257.6 + v * 46.9;
  const stops = [[0, [0, 139, 251]], [0.2, [10, 114, 232]], [0.4, [106, 79, 208]], [0.6, [165, 26, 168]], [0.8, [216, 0, 138]], [1, [255, 0, 82]]];
  function cmap(f) {
    for (let i = 1; i < stops.length; i++) {
      if (f <= stops[i][0]) {
        const a = stops[i - 1], b = stops[i], t = (f - a[0]) / (b[0] - a[0]);
        const c = a[1].map((v, k) => Math.round(v + (b[1][k] - v) * t));
        return 'rgb(' + c.join(',') + ')';
      }
    }
    return 'rgb(255,0,82)';
  }
  [[8, 11], [17, 25]].forEach(r => {
    const s = mk('rect', { x: L, y: rowY(r[0]) - 17.7, width: R - L, height: (r[1] - r[0]) * 35.43, fill: '#f4f4f4' }, g);
    
    
  });
  for (let i = 1; i < featNames.length; i++) {
    mk('line', { x1: L, x2: R, y1: rowY(i) - 17.7, y2: rowY(i) - 17.7, stroke: '#e6e6e6', 'stroke-width': 1 }, g);
  }
  mk('line', { x1: xv(0), x2: xv(0), y1: T, y2: B, stroke: '#a0a0a0', 'stroke-width': 1.5 }, g);
  groupStart.slice(1).forEach(s => {
    const l = mk('line', { x1: L, x2: R, y1: rowY(s) - 17.7, y2: rowY(s) - 17.7, stroke: '#222', 'stroke-width': 2 }, g);
    
    
  });
  const fr = mk('rect', { x: L, y: T, width: R - L, height: B - T, fill: 'none', stroke: '#555', 'stroke-width': 1.2 }, g);
  
  
  featNames.forEach((n, i) => {
    const y = rowY(i);
    mk('line', { x1: L - 3, x2: L, y1: y, y2: y, stroke: '#555' }, g);
    mk('line', { x1: R, x2: R + 3, y1: y, y2: y, stroke: '#555' }, g);
    const t = tx(n, { x: L - 5, y: y + 3, 'font-size': 7.5, 'text-anchor': 'end', fill: '#222' }, g);
    
    
    const d = featDesc[i];
    const dt = mk('text', { x: 475, y: d.length > 1 ? y - 1.5 : y + 3, 'font-size': 7.5, fill: '#222' }, g);
    
    
    d.forEach((line, k) => {
      const ts = mk('tspan', { x: 475, dy: k === 0 ? 0 : 8.5 }, dt);
      ts.textContent = line;
    });
    if (shapVals[i] !== null) {
      const c = mk('circle', { cx: xv(shapVals[i]), cy: y, r: 4, fill: cmap(featVals[i]) }, g);
      
      
    }
  });
  groupLabels.forEach((lab, k) => {
    const t = tx(lab, { x: 465, y: rowY(groupStart[k]) - 2, 'font-size': 8.5, 'text-anchor': 'end', fill: '#222' }, g);
    
    
  });
  dotXTicks.forEach(v => {
    mk('line', { x1: xv(v), x2: xv(v), y1: B, y2: B + 3, stroke: '#333' }, g);
    const t = tx(v < 0 ? '−' + Math.abs(v) : String(v), { x: xv(v), y: B + 12, 'font-size': 8, 'text-anchor': 'middle', fill: '#222' }, g);
    
    
  });
  const xl = tx('SHAP Value [kts]', { x: 268, y: 2297, 'font-size': 10, 'text-anchor': 'middle', fill: '#222' }, g);
  
  
  const cb = mk('rect', { x: 42, y: 2321, width: 590, height: 25, fill: 'url(#shapC)', stroke: '#555', 'stroke-width': 0.8 }, g);
  
  
  const lo = tx('Low', { x: 42, y: 2358, 'font-size': 8, 'text-anchor': 'middle', fill: '#222' }, g);
  
  
  const hi = tx('High', { x: 632, y: 2358, 'font-size': 8, 'text-anchor': 'middle', fill: '#222' }, g);
  
  
  const f1 = mk('text', { x: 42, y: 2373, 'font-size': 8.3, fill: '#222' }, g);
  
  
  f1.appendChild(document.createTextNode('SHAP Value: Amount each feature [listed on Y-axis] contributes to the predicted intensity above or below '));
  const u = mk('tspan', { 'text-decoration': 'underline' }, f1);
  u.textContent = '60 kts';
  const f2 = tx('Feature Value: The value of the feature [listed on Y-axis] for the given TC compared to the training dataset', { x: 42, y: 2388, 'font-size': 8.3, fill: '#222' }, g);
  
  
})();

/* ================= IR / MW AXES ================= */
const irTitles = ['0h old IR Data', '3h old IR Data', '6h old IR Data', '9h old IR Data', '12h old IR Data', '15h old IR Data'];
const irShapTitles = ['SHAP Value=4.13 kts', 'SHAP Value=2.30 kts', 'SHAP Value=2.47 kts', 'SHAP Value=2.04 kts', 'SHAP Value=1.30 kts', 'SHAP Value=6.17 kts'];
const irLonStart = [129, 129, 130, 131, 132, 132];
const irLonEnd = [135, 135, 136, 136, 137, 138];
const irLatStart = [10, 10, 10, 10, 9, 9];
const irLatEnd = [15, 15, 15, 15, 15, 15];
const mwTitles = ['183±1 GHz MW Data', '183±3 GHz MW Data'];
const mwShapTitles = ['SHAP Value=-3.65 kts', 'SHAP Value=0.89 kts'];
const mwLon = [130, 131, 132];
const mwLat = [12, 13, 14];
const btTicks = [160, 180, 200, 220, 240, 260, 280];
const irCbTicks = [180, 200, 220, 240, 260, 280, 300];
const irShapCbTicks = [-0.10, -0.05, 0.00, 0.05, 0.10];
const mwShapCbTicks = [-0.4, -0.2, 0.0, 0.2, 0.4];

(function () {
  const g = document.getElementById('grid');
  const rowsY = [938, 1175.5, 1413, 1651, 1888.5, 2126];
  const lonOff = [5, 5, 11, 18, 25, 3];
  const lonStep = [30.6, 30.6, 30.8, 29.7, 30.8, 30.9];
  const latOff15 = [22, 22, 18, 12, 8, 4];
  const latStep = [31.3, 31.3, 31.3, 31.4, 31.6, 31.6];
  rowsY.forEach((y0, p) => {
    const t1 = tx(irTitles[p], { x: 818.5, y: y0 - 4, 'font-size': 10, 'text-anchor': 'middle', fill: '#222' }, g);
    
    
    const t2 = tx(irShapTitles[p], { x: 1057, y: y0 - 4, 'font-size': 10, 'text-anchor': 'middle', fill: '#222' }, g);
    
    
    for (let lon = irLonStart[p]; lon <= irLonEnd[p]; lon++) {
      const x = 718 + lonOff[p] + (lon - irLonStart[p]) * lonStep[p];
      mk('line', { x1: x, x2: x, y1: y0 + 200, y2: y0 + 203, stroke: '#333' }, g);
      mk('line', { x1: x + 238.5, x2: x + 238.5, y1: y0 + 200, y2: y0 + 203, stroke: '#333' }, g);
      const t = tx(String(lon), { x: x, y: y0 + 213, 'font-size': 8.5, 'text-anchor': 'middle', fill: '#222' }, g);
      
      
    }
    for (let lat = irLatStart[p]; lat <= irLatEnd[p]; lat++) {
      const y = y0 + latOff15[p] + (15 - lat) * latStep[p];
      mk('line', { x1: 715, x2: 718, y1: y, y2: y, stroke: '#333' }, g);
      mk('line', { x1: 953.5, x2: 956.5, y1: y, y2: y, stroke: '#333' }, g);
      const t = tx(String(lat), { x: 712, y: y + 3, 'font-size': 8.5, 'text-anchor': 'end', fill: '#222' }, g);
      
      
    }
  });
  const cb1 = mk('rect', { x: 718, y: 2370, width: 201, height: 13, fill: 'url(#irC)', stroke: '#333', 'stroke-width': 0.6 }, g);
  
  
  tx('Brightness Temperature [K]', { x: 818.5, y: 2365, 'font-size': 8.5, 'text-anchor': 'middle', fill: '#222' }, g);
  irCbTicks.forEach(v => {
    const x = 718 + (v - 180) / 130.5 * 201;
    const t = tx(String(v), { x: x, y: 2393, 'font-size': 6, 'text-anchor': 'middle', fill: '#222' }, g);
    
    
  });
  const cb2 = mk('rect', { x: 956.5, y: 2370, width: 201, height: 13, fill: 'url(#seis)', stroke: '#333', 'stroke-width': 0.6 }, g);
  
  
  tx('SHAP Values', { x: 1057, y: 2365, 'font-size': 8.5, 'text-anchor': 'middle', fill: '#222' }, g);
  irShapCbTicks.forEach(v => {
    const x = 1057 + v / 0.132 * 100.5;
    const t = tx((v < 0 ? '−' : '') + Math.abs(v).toFixed(2), { x: x, y: 2394, 'font-size': 8, 'text-anchor': 'middle', fill: '#222' }, g);
    
    
  });
  const mwY = [938, 1207.6];
  const latOff14 = [19.4, 20];
  mwY.forEach((y0, p) => {
    const t1 = tx(mwTitles[p], { x: 1308, y: y0 - 4, 'font-size': 10, 'text-anchor': 'middle', fill: '#222' }, g);
    
    
    const t2 = tx(mwShapTitles[p], { x: 1546, y: y0 - 4, 'font-size': 10, 'text-anchor': 'middle', fill: '#222' }, g);
    
    
    mwLon.forEach((lon, k) => {
      const x = 1231 + k * 61;
      mk('line', { x1: x, x2: x, y1: y0 + 200, y2: y0 + 203, stroke: '#333' }, g);
      const t = tx(String(lon), { x: x, y: y0 + 212, 'font-size': 8.5, 'text-anchor': 'middle', fill: '#222' }, g);
      
      
    });
    for (let k = 0; k < 7; k++) {
      const x = 1466 + k * 30.5;
      mk('line', { x1: x, x2: x, y1: y0 + 200, y2: y0 + 203, stroke: '#333' }, g);
      mk('line', { x1: 1442.7, x2: 1445.7, y1: y0 + 15 + k * 31, y2: y0 + 15 + k * 31, stroke: '#333' }, g);
    }
    mwLat.forEach(lat => {
      const y = y0 + latOff14[p] + (14 - lat) * 62.6;
      mk('line', { x1: 1204.6, x2: 1207.6, y1: y, y2: y, stroke: '#333' }, g);
      const t = tx(String(lat), { x: 1202, y: y + 3, 'font-size': 8.5, 'text-anchor': 'end', fill: '#222' }, g);
      
      
    });
  });
  const cbY = [1166.7, 1437];
  cbY.forEach((y, p) => {
    const c = mk('rect', { x: 1207.6, y: y, width: 201, height: 13.5, fill: 'url(#jetR)', stroke: '#333', 'stroke-width': 0.6 }, g);
    
    
    tx('Brightness Temperature [K]', { x: 1308, y: y - 5, 'font-size': 8.5, 'text-anchor': 'middle', fill: '#222' }, g);
    btTicks.forEach(v => {
      const x = 1207.6 + (v - 160) / 120 * 201;
      const t = tx(String(v), { x: x, y: y + 22, 'font-size': 6, 'text-anchor': 'middle', fill: '#222' }, g);
      
      
    });
  });
  const sc = mk('rect', { x: 1445.7, y: 1437, width: 201, height: 13.5, fill: 'url(#seis)', stroke: '#333', 'stroke-width': 0.6 }, g);
  
  
  tx('SHAP Values', { x: 1546, y: 1432, 'font-size': 8.5, 'text-anchor': 'middle', fill: '#222' }, g);
  mwShapCbTicks.forEach(v => {
    const x = 1546 + v / 0.4 * 100.5;
    const t = tx((v < 0 ? '−' : '') + Math.abs(v).toFixed(1), { x: x, y: 1462, 'font-size': 8.5, 'text-anchor': 'middle', fill: '#222' }, g);
    
    
  });
})();
</script>
</svg>
</body></html>
